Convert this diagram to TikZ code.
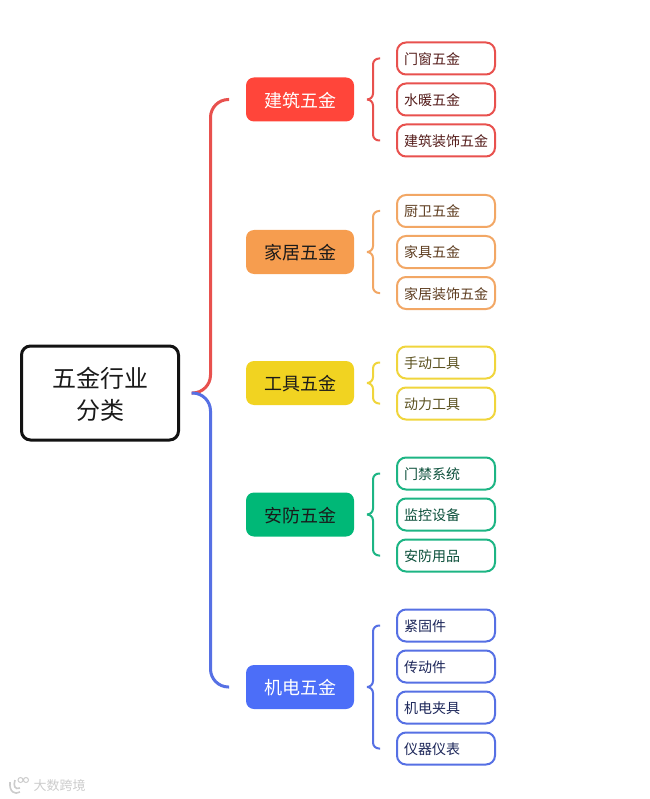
\documentclass[tikz,border=0pt]{standalone}
\usepackage{fontspec}
\setmainfont{Noto Sans CJK SC}
\usetikzlibrary{positioning, calc}
\definecolor{cred}{HTML}{FF453A}
\definecolor{corange}{HTML}{F69D4F}
\definecolor{cyellow}{HTML}{F1D321}
\definecolor{cgreen}{HTML}{00B877}
\definecolor{cblue}{HTML}{4C6EF8}
\definecolor{lred}{HTML}{E8514E}
\definecolor{lorange}{HTML}{F2A765}
\definecolor{lyellow}{HTML}{F0D53C}
\definecolor{lgreen}{HTML}{1DB584}
\definecolor{lblue}{HTML}{5670E4}
\definecolor{tred}{HTML}{551D1B}
\definecolor{torange}{HTML}{5E3D20}
\definecolor{tyellow}{HTML}{5C5220}
\definecolor{tgreen}{HTML}{0B4F3A}
\definecolor{tblue}{HTML}{1C2659}
\definecolor{cink}{HTML}{1A1A1A}
\definecolor{cmark}{HTML}{CCCCCC}
\tikzset{
  root/.style={draw=black!93, fill=white, line width=3pt, rounded corners=9pt, align=center, text=cink, text depth=0pt, minimum width=157pt, minimum height=94pt, inner sep=0pt, outer sep=0pt, font=\fontsize{24}{32}\selectfont},
  topic/.style 2 args={fill=#1, text=#2, rounded corners=8pt, text height=15.4pt, text depth=0pt, minimum width=108pt, minimum height=44pt, inner sep=0pt, outer sep=0pt, font=\fontsize{18}{22}\selectfont},
  leaf/.style 2 args={draw=#1, fill=white, text=#2, line width=2pt, rounded corners=9pt, align=left, text width=84pt, text height=12pt, text depth=0pt, inner xsep=7pt, inner ysep=0pt, minimum height=32pt, outer sep=0pt, font=\fontsize{14}{17}\selectfont},
  trunk/.style={draw=#1, line width=3pt, rounded corners=18pt},
  twig/.style={draw=#1, line width=2pt, rounded corners=6pt},
}
\begin{document}
\begin{tikzpicture}[x=1pt, y=1pt, node distance=9pt and 43pt]
  \useasboundingbox (0,0) rectangle (649,-799);
  \node[root] (hw) at (100,-393) {五金行业\\分类};
  \coordinate[right=13pt of hw.east] (hwout);
  % first level
  \node[topic={cred}{white}] (jz) at (300,-99.5) {建筑五金};
  \node[topic={corange}{cink}] (jj) at (300,-252) {家居五金};
  \node[topic={cyellow}{cink}] (gj) at (300,-383) {工具五金};
  \node[topic={cgreen}{cink}] (af) at (300,-514.5) {安防五金};
  \node[topic={cblue}{white}] (jd) at (300,-687) {机电五金};
  % second level
  \node[leaf={lred}{tred}, right=of jz, yshift=41pt] (jz1) {门窗五金};
  \node[leaf={lred}{tred}, below=of jz1] (jz2) {水暖五金};
  \node[leaf={lred}{tred}, below=of jz2] (jz3) {建筑装饰五金};
  \node[leaf={lorange}{torange}, right=of jj, yshift=41pt] (jj1) {厨卫五金};
  \node[leaf={lorange}{torange}, below=of jj1] (jj2) {家具五金};
  \node[leaf={lorange}{torange}, below=of jj2] (jj3) {家居装饰五金};
  \node[leaf={lyellow}{tyellow}, right=of gj, yshift=20.5pt] (gj1) {手动工具};
  \node[leaf={lyellow}{tyellow}, below=of gj1] (gj2) {动力工具};
  \node[leaf={lgreen}{tgreen}, right=of af, yshift=41pt] (af1) {门禁系统};
  \node[leaf={lgreen}{tgreen}, below=of af1] (af2) {监控设备};
  \node[leaf={lgreen}{tgreen}, below=of af2] (af3) {安防用品};
  \node[leaf={lblue}{tblue}, right=of jd, yshift=61.5pt] (jd1) {紧固件};
  \node[leaf={lblue}{tblue}, below=of jd1] (jd2) {传动件};
  \node[leaf={lblue}{tblue}, below=of jd2] (jd3) {机电夹具};
  \node[leaf={lblue}{tblue}, below=of jd3] (jd4) {仪器仪表};
  % connectors
  \draw[trunk=lred] (hwout) -- ++(19,0) |- ($(jz.west)+(-17,0)$);
  \draw[trunk=lblue] (hwout) -- ++(19,0) |- ($(jd.west)+(-17,0)$);
  \draw[twig=lred] ($(jz.east)+(13,0)$) -- ++(6,0) |- ($(jz1.west)+(-17,0)$);
  \draw[twig=lred] ($(jz.east)+(13,0)$) -- ++(6,0) |- ($(jz3.west)+(-17,0)$);
  \draw[twig=lorange] ($(jj.east)+(13,0)$) -- ++(6,0) |- ($(jj1.west)+(-17,0)$);
  \draw[twig=lorange] ($(jj.east)+(13,0)$) -- ++(6,0) |- ($(jj3.west)+(-17,0)$);
  \draw[twig=lyellow] ($(gj.east)+(13,0)$) -- ++(6,0) |- ($(gj1.west)+(-17,0)$);
  \draw[twig=lyellow] ($(gj.east)+(13,0)$) -- ++(6,0) |- ($(gj2.west)+(-17,0)$);
  \draw[twig=lgreen] ($(af.east)+(13,0)$) -- ++(6,0) |- ($(af1.west)+(-17,0)$);
  \draw[twig=lgreen] ($(af.east)+(13,0)$) -- ++(6,0) |- ($(af3.west)+(-17,0)$);
  \draw[twig=lblue] ($(jd.east)+(13,0)$) -- ++(6,0) |- ($(jd1.west)+(-17,0)$);
  \draw[twig=lblue] ($(jd.east)+(13,0)$) -- ++(6,0) |- ($(jd4.west)+(-17,0)$);
  % watermark
  \node[text=cmark, inner sep=0pt, font=\fontsize{13}{15}\selectfont] (mark) at (59.5,-786) {大数跨境};
  \draw[cmark, line width=1.6pt] (10,-782) .. controls (9,-792) and (15,-795) .. (20,-792);
  \draw[cmark, line width=1.6pt] (15,-780) .. controls (13,-786) and (15,-790) .. (20,-788);
  \draw[cmark, line width=1pt] (20.5,-780) circle (2.5) (26,-780) circle (2.5);
\end{tikzpicture}
\end{document}
